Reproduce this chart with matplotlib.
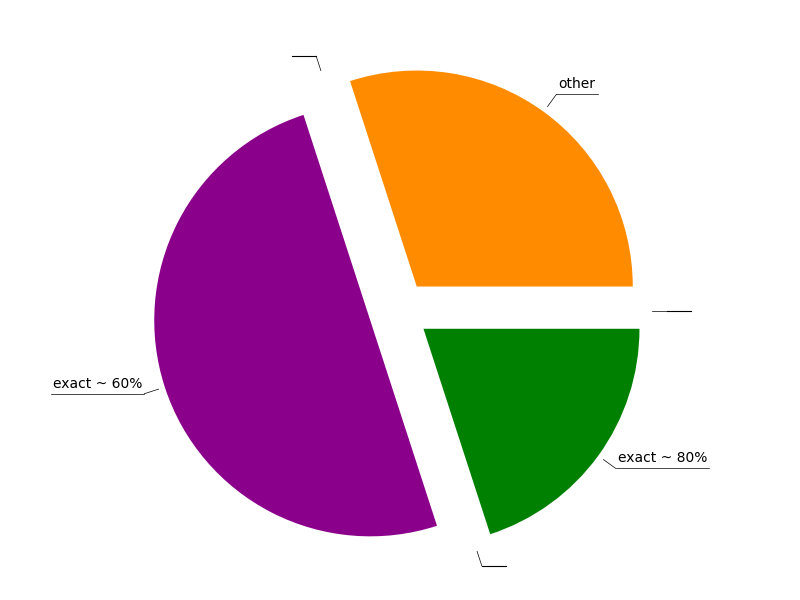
import numpy as np
import matplotlib
matplotlib.use("Agg")
import matplotlib.pyplot as plt

labels = ["other", "", "exact ~ 60%", "", "exact ~ 80%", ""]
values = [0.3, 0.0, 0.5, 0.0, 0.2, 0.0]
colors = ["darkorange", "white", "darkmagenta", "white", "green", "white"]
explode = [0.14] * 6

fig = plt.figure(figsize=(8, 6), dpi=100)
ax = fig.add_axes([0, 0, 1, 1])
R = 216.0
wedges, _ = ax.pie(values, colors=colors, explode=explode, startangle=0,
                   counterclock=True, radius=1, normalize=True)
ax.set_aspect("equal")
ax.set_xlim(-399 / R, 401 / R)
ax.set_ylim(-289 / R, 311 / R)
ax.axis("off")

fig.canvas.draw()
renderer = fig.canvas.get_renderer()
for w, lab in zip(wedges, labels):
    ang = np.deg2rad((w.theta1 + w.theta2) / 2)
    d = np.array([np.cos(ang), np.sin(ang)])
    p0 = 1.17 * d
    p1 = 1.24 * d
    ax.plot([p0[0], p1[0]], [p0[1], p1[1]], color="black", lw=0.5)
    right = d[0] >= -1e-9
    t = ax.text(p1[0] + (0.01 if right else -0.01), p1[1] + 0.015, lab,
                ha="left" if right else "right", va="bottom", fontsize=10)
    bb = t.get_window_extent(renderer)
    width = bb.width / R if lab else 0.09
    x2 = p1[0] + width + 0.02 if right else p1[0] - width - 0.02
    ax.plot([p1[0], x2], [p1[1], p1[1]], color="black", lw=0.5 if lab else 0.8)

fig.savefig("out.png")
